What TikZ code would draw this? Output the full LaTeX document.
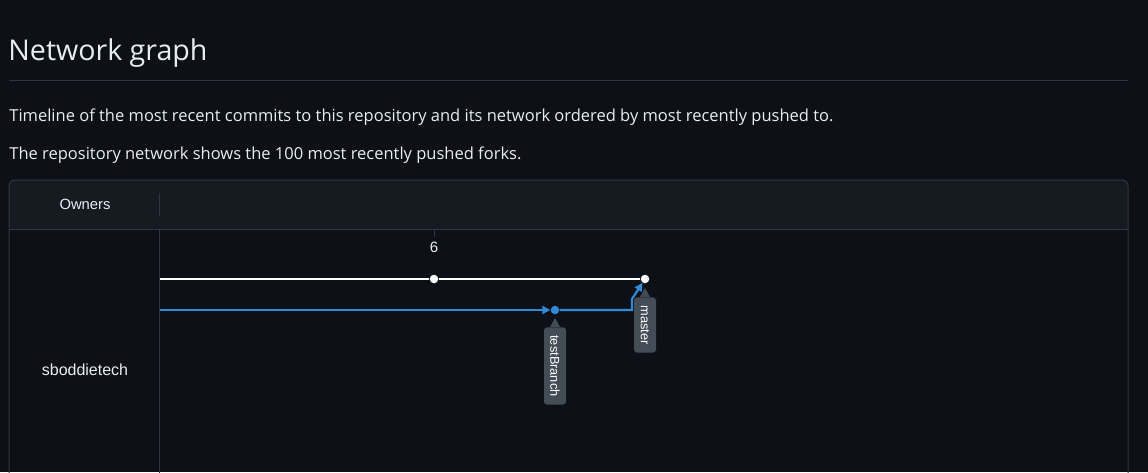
\documentclass[tikz,border=0pt]{standalone}
\usepackage{fontspec}
\setmainfont{Open Sans}
\setsansfont{Liberation Sans}
\usetikzlibrary{arrows.meta}

\definecolor{pagebg}{HTML}{0D1117}
\definecolor{headbg}{HTML}{161B22}
\definecolor{rulecol}{HTML}{30363D}
\definecolor{textcol}{HTML}{E6EDF3}
\definecolor{tagbg}{HTML}{444C56}
\definecolor{branchblue}{HTML}{2F8AD8}

\begin{document}
\begin{tikzpicture}
            [x=1pt,y=-1pt,thick,every node/.style={inner sep=0pt,text=textcol},
             commit/.style={circle,minimum size=8.5pt},
             branchtag/.style={fill=tagbg,rounded corners=3pt,rotate=-90,anchor=west,
               minimum height=22pt,inner xsep=8pt,font=\sffamily\fontsize{12.8}{13}\selectfont,text=white},
             tip/.style={-{Triangle[length=8pt,width=8pt]}}]
            \fill[pagebg] (0,0) rectangle (1148,472);
            \useasboundingbox (0,0) rectangle (1148,472);
            \clip (0,0) rectangle (1148,472);

            \node[anchor=base west,font=\fontsize{28.6}{32}\selectfont] (title) at (8,60) {Network graph};
            \draw[rulecol,line width=1pt] (9,80) -- (1128,80);
            \node[anchor=base west,font=\fontsize{16.5}{19}\selectfont] (intro) at (9,121)
              {Timeline of the most recent commits to this repository and its network ordered by most recently pushed to.};
            \node[anchor=base west,font=\fontsize{16.5}{19}\selectfont] (forks) at (9,159)
              {The repository network shows the 100 most recently pushed forks.};

            % table frame
            \fill[headbg] (9,229) {[rounded corners=6pt] -- (9,180) -- (1128,180)} -- (1128,229) -- cycle;
            \draw[rulecol,line width=1pt] (9,480) {[rounded corners=6pt] -- (9,180) -- (1128,180)} -- (1128,480);
            \draw[rulecol,line width=1pt] (9,229) -- (1128,229);
            \draw[rulecol,line width=1pt] (159,193) -- (159,216);
            \draw[rulecol,line width=1pt] (159,229) -- (159,480);
            \node[font=\sffamily\fontsize{14.8}{16}\selectfont] (owners) at (85,204) {Owners};
            \node[font=\sffamily\fontsize{16}{18}\selectfont] (user) at (85,370) {sboddietech};

            % time axis
            \draw[rulecol,line width=1pt] (434,229) -- (434,237);
            \node[font=\sffamily\fontsize{15}{16}\selectfont] (day) at (434,247) {6};

            % commits
            \coordinate (w0) at (160,279);
            \coordinate (b0) at (160,310);
            \node[commit,fill=white] (c1) at (434,279) {};
            \node[commit,fill=white] (c2) at (645,279) {};
            \node[commit,fill=branchblue] (c3) at (555,310) {};

            \draw[white,line width=2.4pt] (w0) -- (c1);
            \draw[white,line width=2.4pt] (c1) -- (c2);
            \draw[branchblue,line width=2.2pt,tip] (b0) -- (c3);
            \draw[branchblue,line width=2.2pt,tip] (c3) -- ++(77,0) -- ++(0,-11) -- (c2);

            % branch labels
            \node[branchtag] (tb) at (555,327) {testBranch};
            \fill[tagbg] ([xshift=-5pt]tb.west) -- ([yshift=9pt]tb.west) -- ([xshift=5pt]tb.west) -- cycle;
            \node[branchtag] (ms) at (645,297) {master};
            \fill[tagbg] ([xshift=-5pt]ms.west) -- ([yshift=9pt]ms.west) -- ([xshift=5pt]ms.west) -- cycle;
        \end{tikzpicture}
\end{document}
